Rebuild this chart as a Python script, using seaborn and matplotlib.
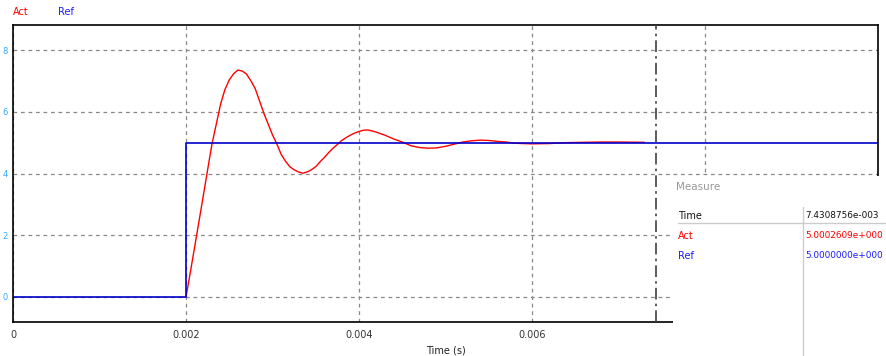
import matplotlib
matplotlib.use("Agg")
import matplotlib.pyplot as plt
from matplotlib.patches import Rectangle
from matplotlib.lines import Line2D
import seaborn as sns
import pandas as pd

# ----------------------------
# Data
# ----------------------------
act_time = [
    0.00200, 0.00205, 0.00210, 0.00215, 0.00220, 0.00225, 0.00230, 0.00235,
    0.00240, 0.00245, 0.00250, 0.00255, 0.00260, 0.00265, 0.00270, 0.00275,
    0.00280, 0.00285, 0.00290, 0.00295, 0.00300, 0.00305, 0.00310, 0.00315,
    0.00320, 0.00325, 0.00330, 0.00335, 0.00340, 0.00345, 0.00350, 0.00355,
    0.00360, 0.00365, 0.00370, 0.00375, 0.00380, 0.00385, 0.00390, 0.00395,
    0.00400, 0.00405, 0.00410, 0.00415, 0.00420, 0.00425, 0.00430, 0.00440,
    0.00450, 0.00460, 0.00470, 0.00480, 0.00490, 0.00500, 0.00510, 0.00520,
    0.00530, 0.00540, 0.00550, 0.00560, 0.00570, 0.00580, 0.00600, 0.00620,
    0.00640, 0.00660, 0.00680, 0.00700, 0.00730,
]
act_value = [
    0.00, 0.80, 1.62, 2.45, 3.28, 4.12, 4.95, 5.60,
    6.25, 6.72, 7.03, 7.23, 7.35, 7.32, 7.22, 7.00,
    6.75, 6.35, 5.95, 5.60, 5.25, 4.96, 4.62, 4.40,
    4.22, 4.12, 4.05, 4.01, 4.05, 4.12, 4.22, 4.38,
    4.52, 4.68, 4.82, 4.94, 5.07, 5.16, 5.24, 5.31,
    5.36, 5.40, 5.41, 5.38, 5.34, 5.29, 5.24, 5.12,
    5.02, 4.90, 4.84, 4.82, 4.83, 4.88, 4.95, 5.02,
    5.06, 5.08, 5.07, 5.04, 5.02, 4.98, 4.96, 4.97,
    5.00, 5.01, 5.02, 5.02, 5.01,
]

ref_time = [0.0, 0.0020, 0.0020, 0.0100]
ref_value = [0.0, 0.0, 5.0, 5.0]

cursor_time = 7.4308756e-003
measure_rows = [("Time", "7.4308756e-003"),
                ("Act", "5.0002609e+000"),
                ("Ref", "5.0000000e+000")]

x_ticks = [0, 0.002, 0.004, 0.006, 0.008]
x_tick_labels = ["0", "0.002", "0.004", "0.006", ""]
y_ticks = [0, 2, 4, 6, 8]

RED = "#ff0000"
BLUE = "#0000cc"
BLUE_TXT = "#1a1aff"

act = pd.DataFrame({"t": act_time, "v": act_value})
ref = pd.DataFrame({"t": ref_time, "v": ref_value})

sns.set_style("white")
plt.rcParams["font.family"] = ["DejaVu Sans"]

fig = plt.figure(figsize=(8.86, 3.56), dpi=100)
ax = fig.add_axes([13 / 886, 34 / 356, 865 / 886, 297 / 356])

sns.lineplot(data=act, x="t", y="v", ax=ax, color=RED, linewidth=1.0,
             estimator=None, sort=False, zorder=3)
sns.lineplot(data=ref, x="t", y="v", ax=ax, color=BLUE, linewidth=1.2,
             estimator=None, sort=False, zorder=4)

ax.set_xlim(0, 0.0100)
ax.set_ylim(-0.81, 8.81)
ax.set_xticks(x_ticks)
ax.set_xticklabels(x_tick_labels, fontsize=7, color="#333333")
ax.set_yticks(y_ticks)
ax.set_yticklabels([str(v) for v in y_ticks], fontsize=6, color="#33aaff")
ax.tick_params(axis="both", length=0)
ax.tick_params(axis="x", pad=6)
ax.tick_params(axis="y", pad=4)
ax.set_xlabel("Time (s)", fontsize=7, color="#222222", labelpad=4)
ax.set_ylabel("")

ax.grid(True, color="#888888", linestyle=(0, (3, 3)), linewidth=0.9)
for s in ax.spines.values():
    s.set_color("black")
    s.set_linewidth(1.2)

# measurement cursor
ax.axvline(cursor_time, color="#404040", linewidth=1.2,
           linestyle=(0, (7, 2.5, 1.5, 2.5)), zorder=5)

# legend text above plot
fig.text(13 / 886, 1 - 12 / 356, "Act", color=RED, fontsize=7, va="center")
fig.text(58 / 886, 1 - 12 / 356, "Ref", color=BLUE_TXT, fontsize=7, va="center")

# measure panel covering the lower-right corner
fig.add_artist(Rectangle((673 / 886, 0), 1, 180 / 356, transform=fig.transFigure,
                         facecolor="white", edgecolor="none", zorder=10))
fig.text(676 / 886, 1 - 187 / 356, "Measure", color="#999999", fontsize=7.5,
         va="center", zorder=11)
fig.add_artist(Line2D([678 / 886, 1], [1 - 223 / 356] * 2, transform=fig.transFigure,
                      color="#cccccc", linewidth=1, zorder=11))
fig.add_artist(Line2D([803 / 886] * 2, [1 - 207 / 356, 0], transform=fig.transFigure,
                      color="#cccccc", linewidth=1, zorder=11))
row_colors = ["#111111", RED, BLUE_TXT]
row_y = [216, 236, 256]
for (name, val), c, y in zip(measure_rows, row_colors, row_y):
    fig.text(678 / 886, 1 - y / 356, name, color=c, fontsize=7, va="center", zorder=12)
    fig.text(805 / 886, 1 - y / 356, val, color=c, fontsize=6.4, va="center", zorder=12)

fig.savefig("out.png", dpi=100)
